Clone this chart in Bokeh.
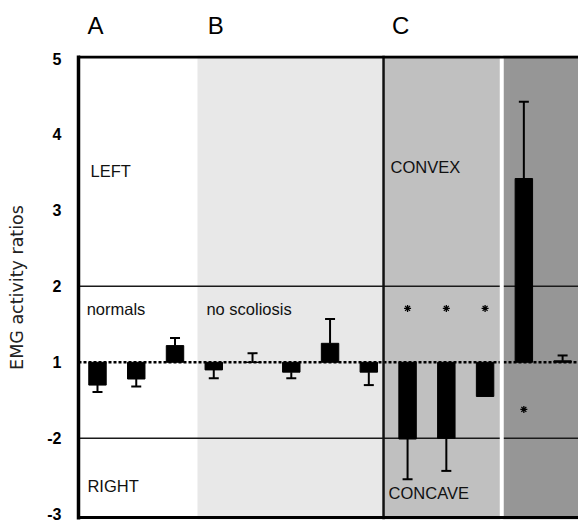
from bokeh.plotting import figure
from bokeh.models import ColumnDataSource, FixedTicker, Span, BoxAnnotation, LinearAxis
from bokeh.core.properties import value
from bokeh.embed import file_html
from bokeh.resources import INLINE

# ---- data (EMG activity ratios; negative = right side dominant) ----
groups = ["A", "A", "A", "B", "B", "B", "B", "B", "C", "C", "C", "D", "D"]
ratios = [-1.30, -1.22, 1.22, -1.10, 1.00, -1.13, 1.25, -1.13, -2.01, -2.00, -1.45, 3.42, 1.02]
err_ends = [-1.39, -1.32, 1.32, -1.21, 1.12, -1.21, 1.57, -1.30, -2.54, -2.43, None, 4.43, 1.09]
star_slots = [8, 9, 10, 11]
star_ratios = [1.71, 1.71, 1.71, -1.62]
tick_ratios = [5, 4, 3, 2, 1, -2, -3]
panel_letters = ["A", "B", "C"]


def to_lin(r):
    return r - 1 if r > 0 else r + 1


slots = list(range(len(ratios)))
bar_src = ColumnDataSource(dict(x=slots, top=[to_lin(r) for r in ratios]))
ex = [s for s, e in zip(slots, err_ends) if e is not None]
eb = [to_lin(r) for r, e in zip(ratios, err_ends) if e is not None]
ee = [to_lin(e) for e in err_ends if e is not None]
err_src = ColumnDataSource(dict(x=ex, y0=eb, y1=ee))
star_src = ColumnDataSource(dict(x=star_slots, y=[to_lin(r) for r in star_ratios]))

FONT = "Liberation Sans"

p = figure(width=578, height=522, x_range=(-0.49, 12.41), y_range=(-2.07, 4.04),
           output_backend="svg", toolbar_location=None,
           min_border_left=78, min_border_right=0, min_border_top=55, min_border_bottom=3)
p.xaxis.visible = False
p.grid.visible = False
p.outline_line_color = None
p.background_fill_color = "white"
p.border_fill_color = "white"

# panel backgrounds
p.add_layout(BoxAnnotation(left=2.58, right=7.38, fill_color="#e8e8e8", fill_alpha=1,
                           line_color=None, level="underlay"))
p.add_layout(BoxAnnotation(left=7.38, right=10.40, fill_color="#c0c0c0", fill_alpha=1,
                           line_color=None, level="underlay"))
p.add_layout(BoxAnnotation(left=10.46, fill_color="#969696", fill_alpha=1,
                           line_color=None, level="underlay"))

# reference lines
for loc in (to_lin(2), to_lin(-2)):
    p.add_layout(Span(location=loc, dimension="width", line_color="#1a1a1a",
                      line_width=1.5, level="underlay"))
p.add_layout(Span(location=0, dimension="width", line_color="black", line_width=2.5,
                  line_dash="3 2", level="underlay"))

# bars
p.vbar(x="x", top="top", bottom=0, width=0.45, source=bar_src,
       fill_color="black", line_color="black")
# error bars
p.segment(x0="x", y0="y0", x1="x", y1="y1", source=err_src, line_color="black", line_width=2)
p.scatter(x="x", y="y1", source=err_src, marker="dash", size=10, line_color="black",
          line_width=2)
# significance stars
p.scatter(x="x", y="y", source=star_src, marker="asterisk", size=7, line_color="black",
          line_width=1.3)

# separators
p.add_layout(Span(location=7.38, dimension="height", line_color="#111111", line_width=2.5))
p.add_layout(Span(location=10.43, dimension="height", line_color="white", line_width=4))
p.add_layout(Span(location=4.02, dimension="width", line_color="black", line_width=3))
p.add_layout(Span(location=-2.045, dimension="width", line_color="black", line_width=3))

# in-panel texts
texts = dict(
    x=[-0.18, -0.28, -0.26, 2.81, 7.56, 7.51],
    y=[2.52, 0.70, -1.63, 0.70, 2.57, -1.72],
    t=["LEFT", "normals", "RIGHT", "no scoliosis", "CONVEX", "CONCAVE"],
)
p.text(x="x", y="y", text="t", source=ColumnDataSource(texts), text_font=value(FONT),
       text_font_size="16.5px", text_baseline="middle", text_align="left",
       text_color="#111111")

# panel letters above the frame (as a label-only axis)
letter_x = [-0.05, 3.05, 7.82]
top_ax = LinearAxis(ticker=FixedTicker(ticks=letter_x),
                    major_label_overrides={x: t for x, t in zip(letter_x, panel_letters)})
top_ax.axis_line_color = None
top_ax.major_tick_line_color = None
top_ax.minor_tick_line_color = None
top_ax.major_tick_out = 0
top_ax.major_label_standoff = 17
top_ax.major_label_text_font = FONT
top_ax.major_label_text_font_size = "24px"
top_ax.major_label_text_color = "black"
p.add_layout(top_ax, "above")

# y axis
ax = p.yaxis[0]
ax.ticker = FixedTicker(ticks=[to_lin(r) for r in tick_ratios])
ax.major_label_overrides = {to_lin(r): str(r) for r in tick_ratios}
ax.major_tick_line_color = None
ax.minor_tick_line_color = None
ax.major_tick_out = 0
ax.axis_line_width = 3.5
ax.axis_line_color = "black"
ax.major_label_standoff = 17
ax.major_label_text_font = FONT
ax.major_label_text_font_size = "16px"
ax.major_label_text_font_style = "bold"
ax.major_label_text_color = "black"
ax.axis_label = "EMG activity ratios"
ax.axis_label_text_font = "DejaVu Sans"
ax.axis_label_text_font_size = "17.5px"
ax.axis_label_text_font_style = "normal"
ax.axis_label_text_color = "#222222"
ax.axis_label_standoff = 17

open("out.html", "w").write(file_html(p, INLINE))
